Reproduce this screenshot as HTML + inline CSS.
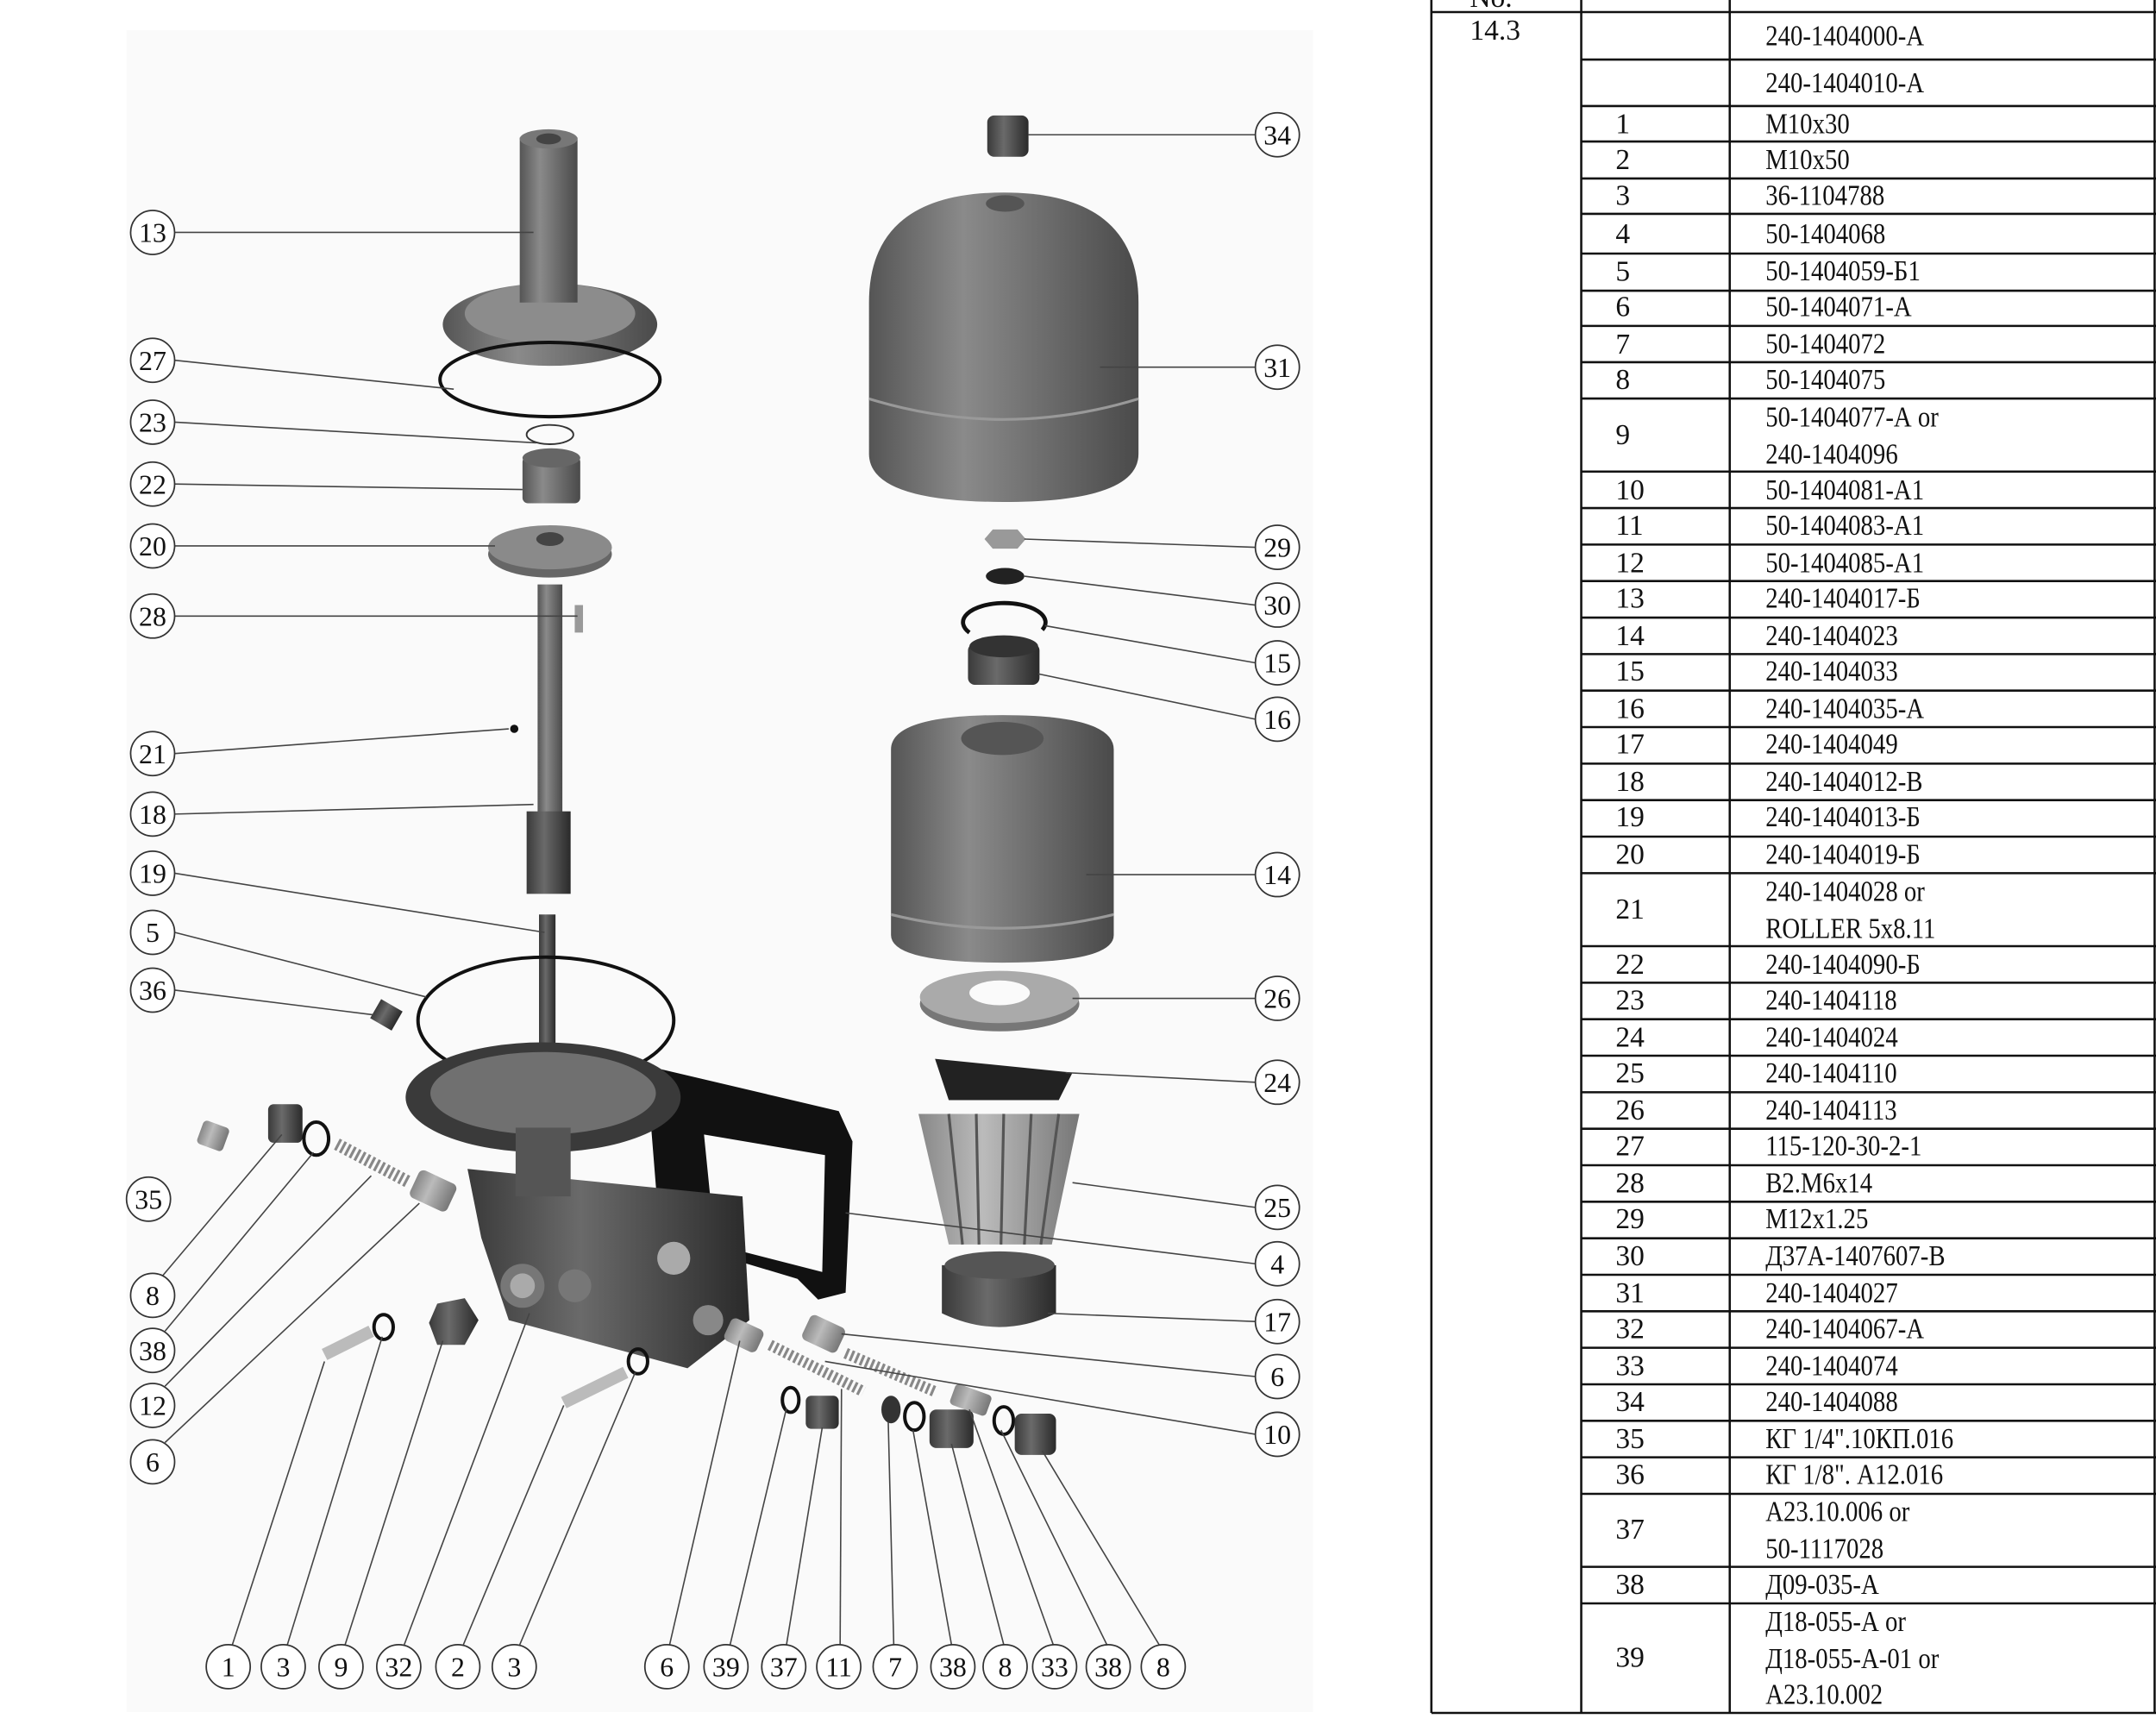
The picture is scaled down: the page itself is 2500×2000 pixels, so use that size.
<!DOCTYPE html>
<html><head><meta charset="utf-8"><style>
html,body{margin:0;padding:0;background:#fff}
svg{display:block}
.c circle{fill:#fff;stroke:#333;stroke-width:1.1}
.c text{font-family:"Liberation Serif",serif;font-size:20px;text-anchor:middle;fill:#111}
.l line,.l polyline{stroke:#444;stroke-width:1;fill:none}
.t text{font-family:"Liberation Serif","Noto Serif CJK SC",serif;font-size:21px;fill:#111}
</style></head><body>
<svg width="2500" height="2000" viewBox="0 0 1568 1254.4" xmlns="http://www.w3.org/2000/svg">
<defs>
<linearGradient id="g" x1="0" x2="1" y1="0" y2="0"><stop offset="0" stop-color="#555"/><stop offset="0.35" stop-color="#8a8a8a"/><stop offset="1" stop-color="#4a4a4a"/></linearGradient>
<linearGradient id="gd" x1="0" x2="1"><stop offset="0" stop-color="#3a3a3a"/><stop offset="0.4" stop-color="#6a6a6a"/><stop offset="1" stop-color="#2a2a2a"/></linearGradient>
<linearGradient id="gl" x1="0" x2="1"><stop offset="0" stop-color="#888"/><stop offset="0.4" stop-color="#bbb"/><stop offset="1" stop-color="#777"/></linearGradient>
</defs>
<rect x="92" y="22" width="863" height="1223" fill="#fafafa"/>

<!-- left stack -->
<ellipse cx="400" cy="236" rx="78" ry="30" fill="url(#g)"/>
<ellipse cx="400" cy="228" rx="62" ry="22" fill="#8c8c8c"/>
<rect x="378" y="100" width="42" height="120" fill="url(#g)"/>
<ellipse cx="399" cy="101" rx="21" ry="7" fill="#777"/><ellipse cx="399" cy="101" rx="9" ry="4" fill="#444"/>
<ellipse cx="400" cy="276" rx="80" ry="27" fill="none" stroke="#111" stroke-width="2.5"/>
<ellipse cx="400" cy="316" rx="17" ry="7" fill="none" stroke="#333" stroke-width="1.2"/>
<rect x="380" y="332" width="42" height="34" rx="4" fill="url(#g)"/><ellipse cx="401" cy="333" rx="21" ry="7" fill="#666"/>
<ellipse cx="400" cy="403" rx="45" ry="17" fill="#666"/><ellipse cx="400" cy="398" rx="45" ry="16" fill="#8a8a8a"/><ellipse cx="400" cy="392" rx="10" ry="5" fill="#444"/>
<rect x="391" y="425" width="18" height="170" fill="url(#g)"/>
<rect x="383" y="590" width="32" height="60" fill="url(#gd)"/>
<circle cx="374" cy="530" r="3" fill="#111"/>
<rect x="418" y="440" width="6" height="20" fill="#999"/>
<rect x="392" y="665" width="12" height="170" fill="url(#gd)"/>
<ellipse cx="397" cy="742" rx="93" ry="46" fill="none" stroke="#111" stroke-width="2.5"/>
<!-- housing -->
<path d="M470 775 L610 808 L620 830 L615 940 L595 945 L580 930 L480 900 Z" fill="#111"/>
<path d="M512 825 L600 840 L598 925 L520 905 Z" fill="#fafafa"/>
<path d="M340 850 L540 870 L545 960 L500 995 L370 960 L350 900 Z" fill="url(#gd)"/>
<ellipse cx="395" cy="798" rx="100" ry="40" fill="#3a3a3a"/>
<ellipse cx="395" cy="795" rx="82" ry="30" fill="#707070"/>
<rect x="375" y="820" width="40" height="50" fill="#555"/>
<circle cx="380" cy="935" r="16" fill="#777"/><circle cx="380" cy="935" r="9" fill="#aaa"/>
<circle cx="418" cy="935" r="12" fill="#777"/><circle cx="490" cy="915" r="12" fill="#aaa"/>
<circle cx="515" cy="960" r="11" fill="#888"/>
<!-- small left parts -->
<rect x="145" y="817" width="20" height="18" rx="3" fill="url(#gl)" transform="rotate(20 155 826)"/>
<rect x="195" y="803" width="25" height="28" rx="4" fill="url(#gd)"/>
<ellipse cx="230" cy="828" rx="9" ry="12" fill="none" stroke="#111" stroke-width="2.5"/>
<line x1="245" y1="832" x2="298" y2="860" stroke="#888" stroke-width="9" stroke-dasharray="2 2"/>
<rect x="300" y="855" width="30" height="22" rx="4" fill="url(#gl)" transform="rotate(25 315 866)"/>
<rect x="272" y="730" width="18" height="16" fill="url(#gd)" transform="rotate(30 281 738)"/>
<line x1="236" y1="985" x2="270" y2="968" stroke="#bbb" stroke-width="9"/>
<ellipse cx="279" cy="965" rx="7" ry="9" fill="none" stroke="#111" stroke-width="2.5"/>
<polygon points="318,948 338,944 348,960 338,978 318,978 312,962" fill="url(#gd)"/>
<line x1="410" y1="1020" x2="455" y2="998" stroke="#bbb" stroke-width="9"/>
<ellipse cx="464" cy="990" rx="7" ry="9" fill="none" stroke="#111" stroke-width="2.5"/>
<rect x="528" y="962" width="26" height="18" rx="4" fill="url(#gl)" transform="rotate(25 541 971)"/>
<line x1="560" y1="978" x2="628" y2="1012" stroke="#888" stroke-width="8" stroke-dasharray="2 2"/>
<rect x="585" y="960" width="28" height="20" rx="4" fill="url(#gl)" transform="rotate(25 599 970)"/>
<line x1="615" y1="984" x2="680" y2="1012" stroke="#888" stroke-width="8" stroke-dasharray="2 2"/>
<ellipse cx="575" cy="1018" rx="6" ry="9" fill="none" stroke="#111" stroke-width="2.5"/>
<rect x="586" y="1015" width="24" height="24" rx="4" fill="url(#gd)"/>
<ellipse cx="648" cy="1025" rx="7" ry="10" fill="#333"/>
<ellipse cx="665" cy="1030" rx="7" ry="10" fill="none" stroke="#111" stroke-width="2.5"/>
<rect x="676" y="1025" width="32" height="28" rx="5" fill="url(#gd)"/>
<rect x="692" y="1010" width="28" height="16" rx="3" fill="url(#gl)" transform="rotate(20 706 1018)"/>
<ellipse cx="730" cy="1033" rx="7" ry="10" fill="none" stroke="#111" stroke-width="2.5"/>
<rect x="738" y="1028" width="30" height="30" rx="5" fill="url(#gd)"/>
<!-- right stack -->
<rect x="718" y="84" width="30" height="30" rx="5" fill="url(#gd)"/>
<path d="M632 220 Q632 140 730 140 Q828 140 828 220 L828 330 Q828 365 730 365 Q632 365 632 330 Z" fill="url(#g)"/>
<path d="M632 290 Q730 320 828 290" stroke="#999" fill="none" stroke-width="2"/>
<ellipse cx="731" cy="148" rx="14" ry="6" fill="#555"/>
<polygon points="722,385 740,385 746,392 740,399 722,399 716,392" fill="#999"/>
<ellipse cx="731" cy="419" rx="14" ry="6" fill="#222"/>
<path d="M705 460 A30 14 0 1 1 758 458" fill="none" stroke="#111" stroke-width="3"/>
<rect x="704" y="468" width="52" height="30" rx="5" fill="url(#gd)"/><ellipse cx="730" cy="470" rx="25" ry="8" fill="#333"/>
<path d="M648 545 Q648 520 729 520 Q810 520 810 545 L810 680 Q810 700 729 700 Q648 700 648 680 Z" fill="url(#g)"/>
<ellipse cx="729" cy="537" rx="30" ry="12" fill="#555"/>
<path d="M648 665 Q729 685 810 665" stroke="#999" fill="none" stroke-width="2"/>
<ellipse cx="727" cy="730" rx="58" ry="20" fill="#777"/><ellipse cx="727" cy="725" rx="58" ry="19" fill="#aaa"/><ellipse cx="727" cy="722" rx="22" ry="9" fill="#fafafa"/>
<polygon points="680,770 780,780 770,800 690,800" fill="#222"/>
<path d="M668 810 L785 810 L765 905 L690 905 Z" fill="url(#gl)"/>
<path d="M690 810 L700 905 M710 810 L712 905 M730 810 L728 905 M750 810 L745 905 M770 810 L757 905" stroke="#555" stroke-width="2"/>
<path d="M685 920 L768 920 L768 955 Q727 975 685 955 Z" fill="url(#gd)"/>
<ellipse cx="727" cy="920" rx="40" ry="10" fill="#555"/>

<!-- leader lines -->
<g class="l">
<line x1="127" y1="169" x2="388" y2="169"/>
<line x1="127" y1="262" x2="330" y2="283"/>
<line x1="127" y1="307" x2="390" y2="322"/>
<line x1="127" y1="352" x2="380" y2="356"/>
<line x1="127" y1="397" x2="360" y2="397"/>
<line x1="127" y1="448" x2="420" y2="448"/>
<line x1="127" y1="548" x2="370" y2="530"/>
<line x1="127" y1="592" x2="388" y2="585"/>
<line x1="127" y1="635" x2="396" y2="678"/>
<line x1="127" y1="678" x2="310" y2="725"/>
<line x1="127" y1="720" x2="272" y2="738"/>
<line x1="118" y1="928" x2="205" y2="825"/>
<line x1="120" y1="968" x2="228" y2="838"/>
<line x1="120" y1="1008" x2="270" y2="855"/>
<line x1="120" y1="1049" x2="305" y2="875"/>
<line x1="169" y1="1196" x2="236" y2="990"/>
<line x1="209" y1="1196" x2="278" y2="972"/>
<line x1="251" y1="1196" x2="322" y2="975"/>
<line x1="294" y1="1196" x2="385" y2="955"/>
<line x1="337" y1="1196" x2="410" y2="1022"/>
<line x1="378" y1="1196" x2="462" y2="998"/>
<line x1="487" y1="1196" x2="538" y2="975"/>
<line x1="531" y1="1196" x2="572" y2="1024"/>
<line x1="572" y1="1196" x2="598" y2="1038"/>
<line x1="611" y1="1196" x2="612" y2="1010"/>
<line x1="650" y1="1196" x2="646" y2="1034"/>
<line x1="692" y1="1196" x2="664" y2="1040"/>
<line x1="730" y1="1196" x2="692" y2="1050"/>
<line x1="766" y1="1196" x2="705" y2="1025"/>
<line x1="805" y1="1196" x2="728" y2="1040"/>
<line x1="843" y1="1196" x2="758" y2="1055"/>
<line x1="913" y1="98" x2="748" y2="98"/>
<line x1="913" y1="267" x2="800" y2="267"/>
<line x1="913" y1="398" x2="745" y2="392"/>
<line x1="913" y1="440" x2="745" y2="419"/>
<line x1="913" y1="482" x2="760" y2="455"/>
<line x1="913" y1="523" x2="755" y2="490"/>
<line x1="913" y1="636" x2="790" y2="636"/>
<line x1="913" y1="726" x2="780" y2="726"/>
<line x1="913" y1="787" x2="775" y2="780"/>
<line x1="913" y1="878" x2="780" y2="860"/>
<line x1="913" y1="919" x2="615" y2="882"/>
<line x1="913" y1="961" x2="762" y2="955"/>
<line x1="913" y1="1001" x2="612" y2="970"/>
<line x1="913" y1="1043" x2="600" y2="990"/>
</g>

<!-- callouts -->
<g class="c">
<circle cx="111" cy="169" r="16"/><text x="111" y="176">13</text>
<circle cx="111" cy="262" r="16"/><text x="111" y="269">27</text>
<circle cx="111" cy="307" r="16"/><text x="111" y="314">23</text>
<circle cx="111" cy="352" r="16"/><text x="111" y="359">22</text>
<circle cx="111" cy="397" r="16"/><text x="111" y="404">20</text>
<circle cx="111" cy="448" r="16"/><text x="111" y="455">28</text>
<circle cx="111" cy="548" r="16"/><text x="111" y="555">21</text>
<circle cx="111" cy="592" r="16"/><text x="111" y="599">18</text>
<circle cx="111" cy="635" r="16"/><text x="111" y="642">19</text>
<circle cx="111" cy="678" r="16"/><text x="111" y="685">5</text>
<circle cx="111" cy="720" r="16"/><text x="111" y="727">36</text>
<circle cx="108" cy="872" r="16"/><text x="108" y="879">35</text>
<circle cx="111" cy="942" r="16"/><text x="111" y="949">8</text>
<circle cx="111" cy="982" r="16"/><text x="111" y="989">38</text>
<circle cx="111" cy="1022" r="16"/><text x="111" y="1029">12</text>
<circle cx="111" cy="1063" r="16"/><text x="111" y="1070">6</text>
<circle cx="166" cy="1212" r="16"/><text x="166" y="1219">1</text>
<circle cx="206" cy="1212" r="16"/><text x="206" y="1219">3</text>
<circle cx="248" cy="1212" r="16"/><text x="248" y="1219">9</text>
<circle cx="290" cy="1212" r="16"/><text x="290" y="1219">32</text>
<circle cx="333" cy="1212" r="16"/><text x="333" y="1219">2</text>
<circle cx="374" cy="1212" r="16"/><text x="374" y="1219">3</text>
<circle cx="485" cy="1212" r="16"/><text x="485" y="1219">6</text>
<circle cx="528" cy="1212" r="16"/><text x="528" y="1219">39</text>
<circle cx="570" cy="1212" r="16"/><text x="570" y="1219">37</text>
<circle cx="610" cy="1212" r="16"/><text x="610" y="1219">11</text>
<circle cx="651" cy="1212" r="16"/><text x="651" y="1219">7</text>
<circle cx="693" cy="1212" r="16"/><text x="693" y="1219">38</text>
<circle cx="731" cy="1212" r="16"/><text x="731" y="1219">8</text>
<circle cx="767" cy="1212" r="16"/><text x="767" y="1219">33</text>
<circle cx="806" cy="1212" r="16"/><text x="806" y="1219">38</text>
<circle cx="846" cy="1212" r="16"/><text x="846" y="1219">8</text>
<circle cx="929" cy="98" r="16"/><text x="929" y="105">34</text>
<circle cx="929" cy="267" r="16"/><text x="929" y="274">31</text>
<circle cx="929" cy="398" r="16"/><text x="929" y="405">29</text>
<circle cx="929" cy="440" r="16"/><text x="929" y="447">30</text>
<circle cx="929" cy="482" r="16"/><text x="929" y="489">15</text>
<circle cx="929" cy="523" r="16"/><text x="929" y="530">16</text>
<circle cx="929" cy="636" r="16"/><text x="929" y="643">14</text>
<circle cx="929" cy="726" r="16"/><text x="929" y="733">26</text>
<circle cx="929" cy="787" r="16"/><text x="929" y="794">24</text>
<circle cx="929" cy="878" r="16"/><text x="929" y="885">25</text>
<circle cx="929" cy="919" r="16"/><text x="929" y="926">4</text>
<circle cx="929" cy="961" r="16"/><text x="929" y="968">17</text>
<circle cx="929" cy="1001" r="16"/><text x="929" y="1008">6</text>
<circle cx="929" cy="1043" r="16"/><text x="929" y="1050">10</text>
</g>

<!-- table -->
<g stroke="#111" stroke-width="1.6" fill="none">
<line x1="1041" y1="0" x2="1041" y2="1245.6"/>
<line x1="1150" y1="0" x2="1150" y2="1245.6"/>
<line x1="1258" y1="0" x2="1258" y2="1245.6"/>
<line x1="1567" y1="0" x2="1567" y2="1245.6"/>
<line x1="1041" y1="8.8" x2="1568" y2="8.8"/>
<line x1="1041" y1="1245.6" x2="1568" y2="1245.6"/>
<path d="M1150 43.3H1568M1150 77.1H1568M1150 102.9H1568M1150 129.8H1568M1150 155.5H1568M1150 184.4H1568M1150 211.4H1568M1150 237H1568M1150 263.4H1568M1150 289.8H1568M1150 342.9H1568M1150 369.45H1568M1150 396H1568M1150 422.55H1568M1150 449.1H1568M1150 475.65H1568M1150 502.2H1568M1150 528.75H1568M1150 555.3H1568M1150 581.85H1568M1150 608.4H1568M1150 634.95H1568M1150 688.05H1568M1150 714.6H1568M1150 741.15H1568M1150 767.7H1568M1150 794.25H1568M1150 820.8H1568M1150 847.35H1568M1150 873.9H1568M1150 900.45H1568M1150 927H1568M1150 953.55H1568M1150 980.1H1568M1150 1006.65H1568M1150 1033.2H1568M1150 1059.75H1568M1150 1086.3H1568M1150 1139.4H1568M1150 1165.95H1568"/>
</g>
<g class="t">
<text x="1069" y="5" font-size="20">No.</text>
<text x="1069" y="29">14.3</text>
<g font-size="21">
<text x="1175" y="97">1</text><text x="1175" y="123">2</text><text x="1175" y="149">3</text><text x="1175" y="177">4</text><text x="1175" y="204">5</text><text x="1175" y="230">6</text><text x="1175" y="257">7</text><text x="1175" y="283">8</text>
<text x="1175" y="323">9</text>
<text x="1175" y="363">10</text><text x="1175" y="389">11</text><text x="1175" y="416">12</text><text x="1175" y="442">13</text><text x="1175" y="469">14</text><text x="1175" y="495">15</text><text x="1175" y="522">16</text><text x="1175" y="548">17</text><text x="1175" y="575">18</text><text x="1175" y="601">19</text><text x="1175" y="628">20</text>
<text x="1175" y="668">21</text>
<text x="1175" y="708">22</text><text x="1175" y="734">23</text><text x="1175" y="761">24</text><text x="1175" y="787">25</text><text x="1175" y="814">26</text><text x="1175" y="840">27</text><text x="1175" y="867">28</text><text x="1175" y="893">29</text><text x="1175" y="920">30</text><text x="1175" y="947">31</text><text x="1175" y="973">32</text><text x="1175" y="1000">33</text><text x="1175" y="1026">34</text><text x="1175" y="1053">35</text><text x="1175" y="1079">36</text>
<text x="1175" y="1119">37</text>
<text x="1175" y="1159">38</text>
<text x="1175" y="1212">39</text>
</g>
<g transform="translate(1284,0) scale(0.86,1)">
<text x="0" y="33">240-1404000-А</text>
<text x="0" y="67">240-1404010-А</text>
<text x="0" y="97">М10х30</text>
<text x="0" y="123">М10х50</text>
<text x="0" y="149">36-1104788</text>
<text x="0" y="177">50-1404068</text>
<text x="0" y="204">50-1404059-Б1</text>
<text x="0" y="230">50-1404071-А</text>
<text x="0" y="257">50-1404072</text>
<text x="0" y="283">50-1404075</text>
<text x="0" y="310">50-1404077-А or</text>
<text x="0" y="337">240-1404096</text>
<text x="0" y="363">50-1404081-А1</text>
<text x="0" y="389">50-1404083-А1</text>
<text x="0" y="416">50-1404085-А1</text>
<text x="0" y="442">240-1404017-Б</text>
<text x="0" y="469">240-1404023</text>
<text x="0" y="495">240-1404033</text>
<text x="0" y="522">240-1404035-А</text>
<text x="0" y="548">240-1404049</text>
<text x="0" y="575">240-1404012-В</text>
<text x="0" y="601">240-1404013-Б</text>
<text x="0" y="628">240-1404019-Б</text>
<text x="0" y="655">240-1404028 or</text>
<text x="0" y="682">ROLLER 5x8.11</text>
<text x="0" y="708">240-1404090-Б</text>
<text x="0" y="734">240-1404118</text>
<text x="0" y="761">240-1404024</text>
<text x="0" y="787">240-1404110</text>
<text x="0" y="814">240-1404113</text>
<text x="0" y="840">115-120-30-2-1</text>
<text x="0" y="867">В2.М6х14</text>
<text x="0" y="893">М12х1.25</text>
<text x="0" y="920">Д37А-1407607-В</text>
<text x="0" y="947">240-1404027</text>
<text x="0" y="973">240-1404067-А</text>
<text x="0" y="1000">240-1404074</text>
<text x="0" y="1026">240-1404088</text>
<text x="0" y="1053">КГ 1/4".10КП.016</text>
<text x="0" y="1079">КГ 1/8". А12.016</text>
<text x="0" y="1106">А23.10.006 or</text>
<text x="0" y="1133">50-1117028</text>
<text x="0" y="1159">Д09-035-А</text>
<text x="0" y="1186">Д18-055-А or</text>
<text x="0" y="1213">Д18-055-А-01 or</text>
<text x="0" y="1239">А23.10.002</text>
</g>
</g>
</svg>
</body></html>
